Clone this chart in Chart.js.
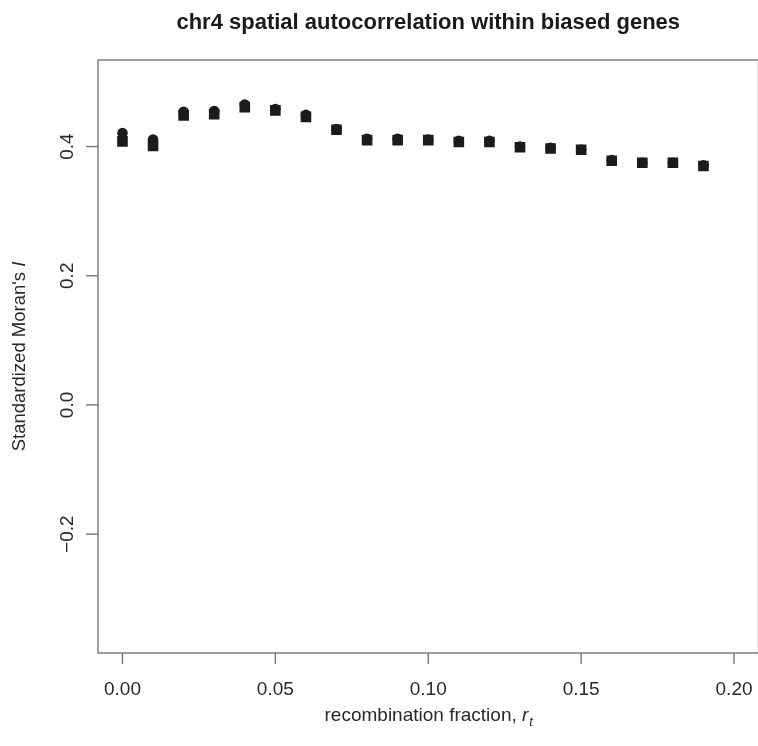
<!DOCTYPE html>
<html>
<head>
<meta charset="utf-8">
<script src="https://cdn.jsdelivr.net/npm/chart.js@4.4.1/dist/chart.umd.min.js"></script>
<style>
  html, body { margin: 0; padding: 0; background: #fff; overflow: hidden; }
  #wrap { width: 758px; height: 746px; overflow: hidden; }
</style>
</head>
<body>
<div id="wrap"><canvas id="chart" width="766" height="746"></canvas></div>
<script>
"use strict";

// Data
const recombFraction = [0.00, 0.01, 0.02, 0.03, 0.04, 0.05, 0.06, 0.07, 0.08, 0.09,
                        0.10, 0.11, 0.12, 0.13, 0.14, 0.15, 0.16, 0.17, 0.18, 0.19];
const circleValues = [0.421, 0.411, 0.454, 0.455, 0.465, 0.458, 0.449, 0.427, 0.412, 0.412,
                      0.411, 0.409, 0.409, 0.400, 0.398, 0.395, 0.379, 0.375, 0.375, 0.371];
const squareValues = [0.408, 0.401, 0.448, 0.450, 0.461, 0.456, 0.446, 0.426, 0.410, 0.410,
                      0.410, 0.407, 0.407, 0.399, 0.397, 0.395, 0.378, 0.375, 0.375, 0.370];
const xTicks = [0.00, 0.05, 0.10, 0.15, 0.20];
const yTicks = [-0.2, 0.0, 0.2, 0.4];

const titleText = "chr4 spatial autocorrelation within biased genes";
const xTitle = "recombination fraction, ";
const yTitle = "Standardized Moran's ";

const axisColor = "#777777";
const textColor = "#2a2a2a";
const markColor = "#1b1b1b";
const fontFamily = "'Liberation Sans', Arial, sans-serif";

function toPoints(xs, ys) {
    return xs.map((x, i) => ({ x: x, y: ys[i] }));
}

// R-style box, ticks and labels
const rAxesPlugin = {
    id: 'rAxes',
    afterDraw(chart) {
        const ctx = chart.ctx;
        const area = chart.chartArea;
        const xs = chart.scales.x;
        const ys = chart.scales.y;
        ctx.save();

        ctx.strokeStyle = axisColor;
        ctx.lineWidth = 1.4;
        ctx.strokeRect(area.left, area.top, area.right - area.left, area.bottom - area.top);

        // x ticks
        ctx.fillStyle = textColor;
        ctx.font = "19px " + fontFamily;
        ctx.textAlign = "center";
        ctx.textBaseline = "middle";
        xTicks.forEach(v => {
            const px = xs.getPixelForValue(v);
            ctx.beginPath();
            ctx.moveTo(px, area.bottom);
            ctx.lineTo(px, area.bottom + 11);
            ctx.stroke();
            ctx.fillText(v.toFixed(2), px, area.bottom + 37);
        });

        // y ticks (rotated labels)
        yTicks.forEach(v => {
            const py = ys.getPixelForValue(v);
            ctx.beginPath();
            ctx.moveTo(area.left, py);
            ctx.lineTo(area.left - 12, py);
            ctx.stroke();
            ctx.save();
            ctx.translate(area.left - 30, py);
            ctx.rotate(-Math.PI / 2);
            const label = v < 0 ? "\u2212" + Math.abs(v).toFixed(1) : v.toFixed(1);
            ctx.fillText(label, 0, 0);
            ctx.restore();
        });

        // title
        ctx.font = "bold 22px " + fontFamily;
        ctx.fillStyle = "#1a1a1a";
        ctx.fillText(titleText, (area.left + area.right) / 2, 23);

        // x axis title with italic subscript r_t
        const fs = 19;
        ctx.font = fs + "px " + fontFamily;
        ctx.fillStyle = textColor;
        const cx = (area.left + area.right) / 2;
        const w1 = ctx.measureText(xTitle).width;
        ctx.font = "italic " + fs + "px " + fontFamily;
        const w2 = ctx.measureText("r").width;
        ctx.font = "italic 13px " + fontFamily;
        const w3 = ctx.measureText("t").width;
        const sx = cx - (w1 + w2 + w3) / 2;
        const ty = 716;
        ctx.textAlign = "left";
        ctx.font = fs + "px " + fontFamily;
        ctx.fillText(xTitle, sx, ty);
        ctx.font = "italic " + fs + "px " + fontFamily;
        ctx.fillText("r", sx + w1, ty);
        ctx.font = "italic 13px " + fontFamily;
        ctx.fillText("t", sx + w1 + w2 + 1, ty + 6);

        // y axis title with italic I
        ctx.save();
        ctx.translate(20, (area.top + area.bottom) / 2);
        ctx.rotate(-Math.PI / 2);
        ctx.font = "18.5px " + fontFamily;
        const v1 = ctx.measureText(yTitle).width;
        ctx.font = "italic 18.5px " + fontFamily;
        const v2 = ctx.measureText("I").width;
        ctx.textAlign = "left";
        ctx.font = "18.5px " + fontFamily;
        ctx.fillText(yTitle, -(v1 + v2) / 2, 0);
        ctx.font = "italic 18.5px " + fontFamily;
        ctx.fillText("I", -(v1 + v2) / 2 + v1, 0);
        ctx.restore();

        ctx.restore();
    }
};

const ctx = document.getElementById('chart').getContext('2d');
new Chart(ctx, {
    type: 'scatter',
    data: {
        datasets: [
            {
                label: 'squares',
                data: toPoints(recombFraction, squareValues),
                pointStyle: 'rect',
                pointRadius: 7.5,
                backgroundColor: markColor,
                borderColor: markColor,
                borderWidth: 0,
                order: 0
            },
            {
                label: 'circles',
                data: toPoints(recombFraction, circleValues),
                pointStyle: 'circle',
                pointRadius: 5.3,
                backgroundColor: markColor,
                borderColor: markColor,
                borderWidth: 0,
                order: 1
            }
        ]
    },
    plugins: [rAxesPlugin],
    options: {
        responsive: false,
        animation: false,
        layout: { padding: { left: 98, top: 60, right: 6, bottom: 93 } },
        plugins: {
            legend: { display: false },
            tooltip: { enabled: false },
            title: { display: false }
        },
        scales: {
            x: { type: 'linear', display: false, min: -0.008, max: 0.208 },
            y: { type: 'linear', display: false, min: -0.384, max: 0.534 }
        }
    }
});
</script>
</body>
</html>
